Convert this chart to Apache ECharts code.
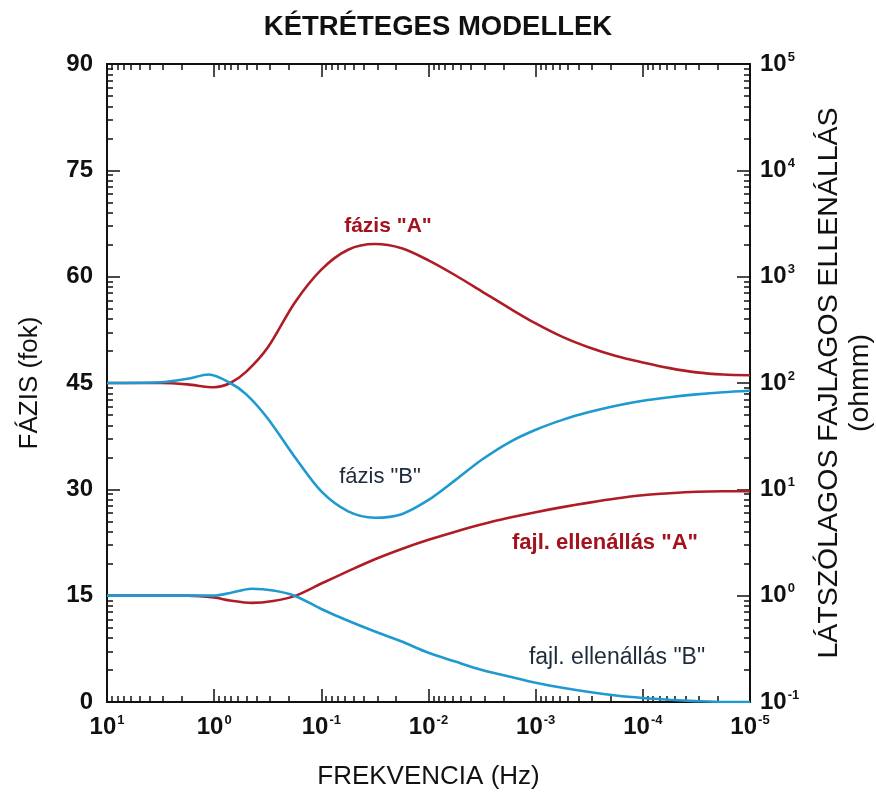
<!DOCTYPE html>
<html><head><meta charset="utf-8">
<script src="https://cdn.jsdelivr.net/npm/echarts@6/dist/echarts.min.js"></script>
<style>html,body{margin:0;padding:0;background:#fff}#c{width:876px;height:794px}</style>
</head><body><div id="c"></div>
<script>
// ---- data ----
// frequencies given as log10(Hz)
const logFPhaseA = [1.0, 0.5, 0.25, 0.0, -0.15, -0.3, -0.5, -0.75, -1.0, -1.25, -1.5, -1.75, -2.0, -2.25, -2.5, -2.75, -3.0, -3.25, -3.5, -3.75, -4.0, -4.25, -4.5, -4.75, -5.0];
const phaseA     = [45.0, 45.0, 44.8, 44.4, 45.0, 46.6, 50.0, 56.3, 61.0, 63.8, 64.6, 64.0, 62.3, 60.2, 57.9, 55.6, 53.4, 51.5, 50.0, 48.8, 47.9, 47.1, 46.5, 46.2, 46.1];

const logFPhaseB = [1.0, 0.5, 0.25, 0.05, -0.15, -0.3, -0.5, -0.75, -1.0, -1.25, -1.5, -1.75, -2.0, -2.25, -2.5, -2.75, -3.0, -3.25, -3.5, -3.75, -4.0, -4.25, -4.5, -4.75, -5.0];
const phaseB     = [45.0, 45.1, 45.6, 46.2, 45.0, 43.4, 40.0, 34.6, 29.7, 26.9, 26.0, 26.5, 28.5, 31.3, 34.2, 36.6, 38.4, 39.8, 40.9, 41.8, 42.5, 43.0, 43.4, 43.7, 43.9];

const logFRhoA = [1.0, 0.25, 0.0, -0.15, -0.35, -0.55, -0.75, -1.0, -1.25, -1.5, -1.75, -2.0, -2.25, -2.5, -2.75, -3.0, -3.25, -3.5, -3.75, -4.0, -4.25, -4.5, -4.75, -5.0];
const rhoA     = [1.0, 1.0, 0.96, 0.9, 0.855, 0.89, 0.99, 1.3, 1.7, 2.2, 2.75, 3.35, 4.0, 4.7, 5.4, 6.1, 6.8, 7.5, 8.2, 8.8, 9.2, 9.5, 9.6, 9.6];

const logFRhoB = [1.0, 0.0, -0.15, -0.35, -0.55, -0.75, -1.0, -1.25, -1.5, -1.75, -2.0, -2.25, -2.5, -2.75, -3.0, -3.25, -3.5, -3.75, -4.0, -4.25, -4.5, -4.75, -5.0];
const rhoB     = [1.0, 1.0, 1.06, 1.16, 1.12, 1.0, 0.75, 0.58, 0.46, 0.37, 0.29, 0.24, 0.2, 0.174, 0.152, 0.136, 0.124, 0.115, 0.109, 0.105, 0.102, 0.1, 0.1];

// tick labels
const freqTicks  = [10, 1, 0.1, 0.01, 0.001, 0.0001, 0.00001];
const phaseTicks = [0, 15, 30, 45, 60, 75, 90];
const rhoTicks   = [0.1, 1, 10, 100, 1000, 10000, 100000];

const seriesNames = ['fázis "A"', 'fázis "B"', 'fajl. ellenállás "A"', 'fajl. ellenállás "B"'];

// ---- helpers ----
function pairs(lf, v) { return lf.map((x, i) => [Math.pow(10, x), v[i]]); }
function minorsOf(majors) {
  const lo = Math.min(...majors), hi = Math.max(...majors);
  const out = [];
  for (let e = Math.round(Math.log10(lo)); e < Math.round(Math.log10(hi)); e++) {
    for (let m = 2; m <= 9; m++) out.push(+(m * Math.pow(10, e)).toPrecision(3));
  }
  return out;
}
function pow10Label(v) {
  const e = Math.round(Math.log10(v));
  return '{b|10}{s|' + String(e) + '}';
}
const FONT = '"Liberation Sans", Arial, Helvetica, sans-serif';
const RED = '#b01c26', BLUE = '#1f9ad0', RED_TXT = '#a3131d', NAVY_TXT = '#1d2b3b';
const richLab = {
  b: {fontSize: 24, fontWeight: 'bold', fontFamily: FONT, color: '#111'},
  s: {fontSize: 13, fontWeight: 'bold', fontFamily: FONT, color: '#111', padding: [0, 0, 14, 1]}
};

function logX(pos, major, withLabels, name) {
  return {
    type: 'log', logBase: 10, min: 0.00001, max: 10, inverse: true, position: pos,
    gridIndex: 0,
    axisLine: {show: major, onZero: false, lineStyle: {color: '#111', width: 2}},
    axisTick: {show: true, inside: true, length: major ? 13 : 6,
               customValues: major ? freqTicks : minorsOf(freqTicks),
               lineStyle: {color: '#111', width: 1.5}},
    axisLabel: withLabels ? {show: true, customValues: freqTicks, formatter: pow10Label, rich: richLab, margin: 12} : {show: false},
    splitLine: {show: false}, minorTick: {show: false},
    name: name || '', nameLocation: 'middle', nameGap: 62,
    nameTextStyle: {fontSize: 26, fontFamily: FONT, color: '#111'}
  };
}
function logY(pos, major, withLabels, name) {
  return {
    type: 'log', logBase: 10, min: 0.1, max: 100000, position: pos, gridIndex: 0,
    axisLine: {show: major, onZero: false, lineStyle: {color: '#111', width: 2}},
    axisTick: {show: true, inside: true, length: major ? 13 : 6,
               customValues: major ? rhoTicks : minorsOf(rhoTicks),
               lineStyle: {color: '#111', width: 1.5}},
    axisLabel: withLabels ? {show: true, customValues: rhoTicks, formatter: pow10Label, rich: richLab, margin: 10, align: 'left'} : {show: false},
    splitLine: {show: false}, minorTick: {show: false},
    name: name || '', nameLocation: 'middle', nameRotate: 90, nameGap: 64,
    nameTextStyle: {fontSize: 28.5, fontFamily: FONT, color: '#111', lineHeight: 31, align: 'center'}
  };
}

const chart = echarts.init(document.getElementById('c'), null, {renderer: 'canvas'});
chart.setOption({
  animation: false,
  backgroundColor: '#fff',
  title: {text: 'KÉTRÉTEGES MODELLEK', left: 'center', top: 8,
          textStyle: {fontSize: 27.5, fontWeight: 'bold', fontFamily: FONT, color: '#111'}},
  grid: {left: 107, right: 126, top: 64, bottom: 92, containLabel: false, outerBoundsMode: 'none'},
  xAxis: [
    logX('bottom', true, true, 'FREKVENCIA (Hz)'),
    logX('bottom', false, false),
    logX('top', true, false),
    logX('top', false, false)
  ],
  yAxis: [
    {type: 'value', min: 0, max: 90, interval: 15, position: 'left', gridIndex: 0,
     axisLine: {show: true, lineStyle: {color: '#111', width: 2}},
     axisTick: {show: true, inside: true, length: 13, lineStyle: {color: '#111', width: 1.5}},
     axisLabel: {fontSize: 24, fontWeight: 'bold', fontFamily: FONT, color: '#111', margin: 14},
     splitLine: {show: false},
     name: 'FÁZIS (fok)', nameLocation: 'middle', nameRotate: 90, nameGap: 64,
     nameTextStyle: {fontSize: 26, fontFamily: FONT, color: '#111'}},
    logY('left', false, false),
    logY('right', true, true, 'LÁTSZÓLAGOS FAJLAGOS ELLENÁLLÁS\n(ohmm)'),
    logY('right', false, false)
  ],
  series: [
    {name: seriesNames[0], type: 'line', xAxisIndex: 0, yAxisIndex: 0, data: pairs(logFPhaseA, phaseA),
     smooth: 0.3, showSymbol: false, lineStyle: {color: RED, width: 2.6}, z: 3},
    {name: seriesNames[1], type: 'line', xAxisIndex: 0, yAxisIndex: 0, data: pairs(logFPhaseB, phaseB),
     smooth: 0.3, showSymbol: false, lineStyle: {color: BLUE, width: 2.6}, z: 4},
    {name: seriesNames[2], type: 'line', xAxisIndex: 0, yAxisIndex: 2, data: pairs(logFRhoA, rhoA),
     smooth: 0.3, showSymbol: false, lineStyle: {color: RED, width: 2.6}, z: 3},
    {name: seriesNames[3], type: 'line', xAxisIndex: 0, yAxisIndex: 2, data: pairs(logFRhoB, rhoB),
     smooth: 0.3, showSymbol: false, lineStyle: {color: BLUE, width: 2.6}, z: 4}
  ],
  graphic: [
    {type: 'text', x: 388, y: 226, style: {text: seriesNames[0], fill: RED_TXT, font: 'bold 21px ' + FONT, align: 'center', verticalAlign: 'middle'}},
    {type: 'text', x: 380, y: 477, style: {text: seriesNames[1], fill: NAVY_TXT, font: '22px ' + FONT, align: 'center', verticalAlign: 'middle'}},
    {type: 'text', x: 605, y: 543, style: {text: seriesNames[2], fill: RED_TXT, font: 'bold 22px ' + FONT, align: 'center', verticalAlign: 'middle'}},
    {type: 'text', x: 617, y: 658, style: {text: seriesNames[3], fill: NAVY_TXT, font: '23px ' + FONT, align: 'center', verticalAlign: 'middle'}}
  ]
});
</script>
</body></html>
